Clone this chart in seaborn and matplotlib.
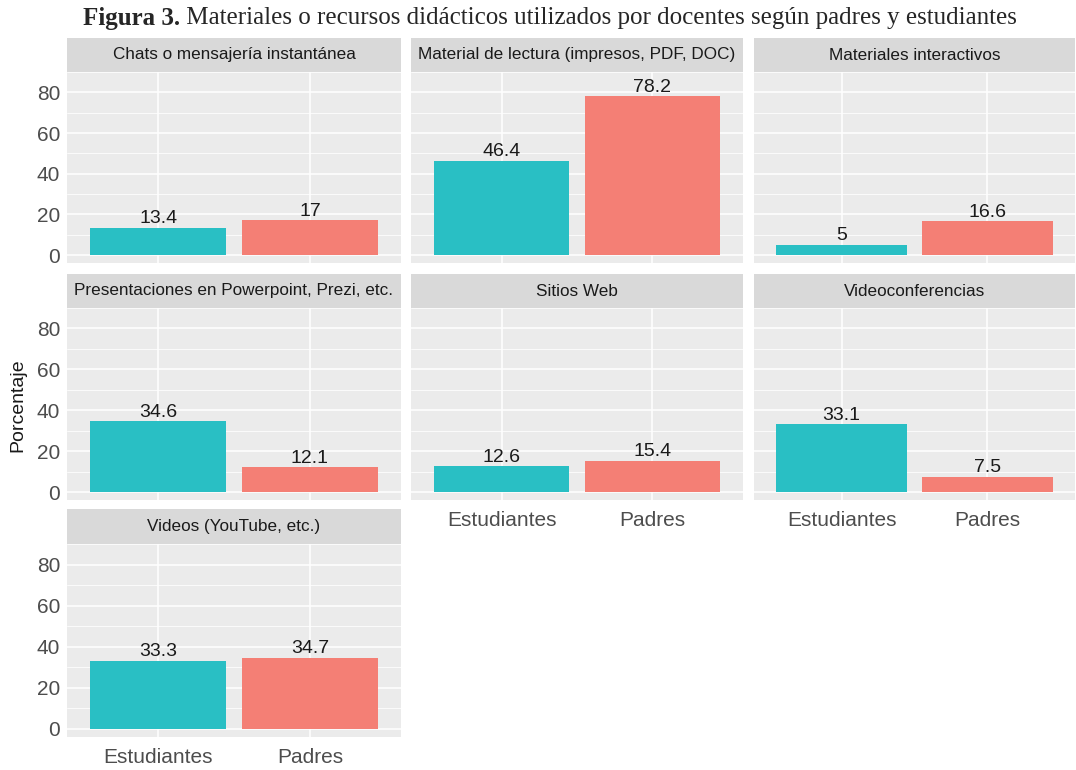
import matplotlib
matplotlib.use("Agg")
import matplotlib.pyplot as plt
import seaborn as sns
import pandas as pd
from matplotlib.ticker import MultipleLocator

sns.set_style("white")
plt.rcParams['font.family'] = ['Liberation Sans', 'DejaVu Sans']

panels = ["Chats o mensajería instantánea",
          "Material de lectura (impresos, PDF, DOC)",
          "Materiales interactivos",
          "Presentaciones en Powerpoint, Prezi, etc.",
          "Sitios Web",
          "Videoconferencias",
          "Videos (YouTube, etc.)"]
groups = ["Estudiantes", "Padres"]
estudiantes = [13.4, 46.4, 5, 34.6, 12.6, 33.1, 33.3]
padres = [17, 78.2, 16.6, 12.1, 15.4, 7.5, 34.7]
yticks = [0, 20, 40, 60, 80]
title_bold = "Figura 3."
title_rest = " Materiales o recursos didácticos utilizados por docentes según padres y estudiantes"
ylabel = "Porcentaje"

colors = {"Estudiantes": "#29BFC4", "Padres": "#F47F75"}

W, H = 1076, 770
fig = plt.figure(figsize=(W / 100, H / 100), dpi=100)

cols = [(67, 401), (411, 743), (754, 1075)]
rows = [(38, 72, 263), (274, 308, 500), (509, 544, 737)]

def fx(x):
    return x / W

def fy(y):
    return 1 - y / H

for i, name in enumerate(panels):
    r, c = divmod(i, 3)
    x0, x1 = cols[c]
    s0, p0, p1 = rows[r]
    ax = fig.add_axes([fx(x0), fy(p1), fx(x1) - fx(x0), fy(p0) - fy(p1)])
    df = pd.DataFrame({"grupo": groups, "valor": [estudiantes[i], padres[i]]})
    sns.barplot(data=df, x="grupo", y="valor", hue="grupo", palette=colors,
                order=groups, width=0.9, legend=False, ax=ax, zorder=3,
                edgecolor="none", saturation=1)
    ax.set_facecolor("#EBEBEB")
    ax.set_xlim(-0.6, 1.6)
    ax.set_ylim(-3.9, 90)
    ax.yaxis.set_major_locator(plt.FixedLocator(yticks))
    ax.yaxis.set_minor_locator(MultipleLocator(10))
    ax.grid(True, which="major", color="white", linewidth=1.1, zorder=0)
    ax.grid(True, which="minor", axis="y", color="white", linewidth=0.55, zorder=0)
    ax.set_axisbelow(True)
    for sp in ax.spines.values():
        sp.set_visible(False)
    ax.set_xlabel("")
    ax.set_ylabel("")
    for j, v in enumerate([estudiantes[i], padres[i]]):
        lbl = f"{v:g}"
        ax.text(j, v + 0.2, lbl, ha="center", va="bottom", fontsize=14,
                color="#1a1a1a", zorder=4)
    show_x = (i >= 4)
    show_y = (c == 0)
    ax.tick_params(axis="x", which="both", length=3 if show_x else 0,
                   color="#333333", labelsize=15, labelcolor="#4D4D4D",
                   pad=5, labelbottom=show_x)
    ax.tick_params(axis="y", which="major", length=3 if show_y else 0,
                   color="#333333", labelsize=15, labelcolor="#4D4D4D",
                   pad=2, labelleft=show_y)
    ax.tick_params(axis="y", which="minor", length=0)
    # strip
    sax = fig.add_axes([fx(x0), fy(p0), fx(x1) - fx(x0), fy(s0) - fy(p0)])
    sax.set_facecolor("#D9D9D9")
    sax.set_xticks([])
    sax.set_yticks([])
    for sp in sax.spines.values():
        sp.set_visible(False)
    sax.text(0.5, 0.5, name, ha="center", va="center", fontsize=12.3,
             color="#1A1A1A", transform=sax.transAxes)

fig.text(fx(18), fy(405), ylabel, rotation=90, ha="center", va="center",
         fontsize=14, color="#1A1A1A")

# title
fig.canvas.draw()
renderer = fig.canvas.get_renderer()
t1 = fig.text(0, fy(18), title_bold, fontsize=18, fontweight="bold",
              family="Liberation Serif", va="center", ha="left")
t2 = fig.text(0, fy(18), title_rest, fontsize=18,
              family="Liberation Serif", va="center", ha="left")
w1 = t1.get_window_extent(renderer).width
w2 = t2.get_window_extent(renderer).width
total = w1 + w2
start = 550 - total / 2
t1.set_x(start / W)
t2.set_x((start + w1) / W)

fig.savefig("out.png", dpi=100)
